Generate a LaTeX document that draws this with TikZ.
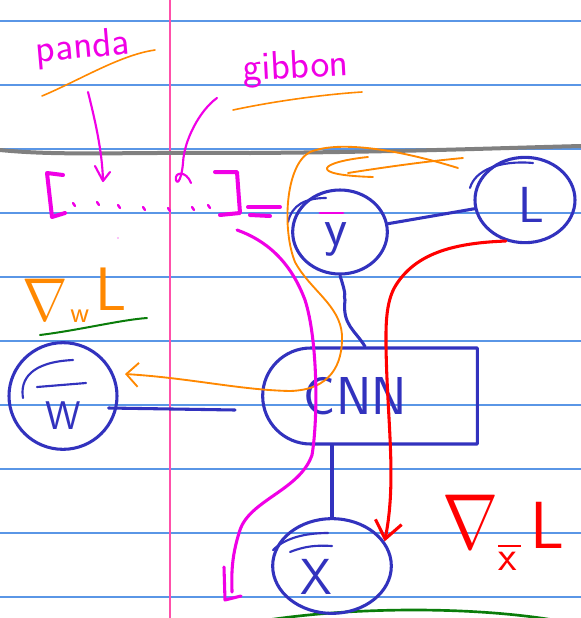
\documentclass[tikz,border=0pt]{standalone}
\usepackage{graphicx}
\usetikzlibrary{shapes.geometric,shapes.misc,arrows.meta,calc}
\definecolor{inkblue}{RGB}{50,50,190}
\definecolor{inkmag}{RGB}{240,0,230}
\definecolor{inkorange}{RGB}{255,136,0}
\definecolor{inkred}{RGB}{255,0,0}
\definecolor{inkgreen}{RGB}{10,125,10}
\definecolor{ruleblue}{RGB}{90,150,230}
\definecolor{marginpink}{RGB}{255,80,170}
\definecolor{pengray}{RGB}{128,128,128}
\newcommand{\fs}[1]{\fontsize{#1}{#1}\selectfont}
% place text: lowered by #1, with extra space #2 before and #3 after
\newcommand{\shifted}[4]{\hspace*{#2}\raisebox{#1}[0pt][0pt]{#4}\hspace*{#3}}
\begin{document}
\begin{tikzpicture}[x=0.75pt,y=-0.75pt,line cap=round,line join=round,
  rule/.style={ruleblue,line width=1pt},
  bluepen/.style={inkblue,line width=2.3pt},
  thinblue/.style={inkblue,line width=1.6pt},
  magpen/.style={inkmag,line width=2.3pt},
  orpen/.style={inkorange,line width=1.4pt},
  redpen/.style={inkred,line width=2.3pt},
  greenpen/.style={inkgreen,line width=1.5pt},
  var/.style={ellipse,draw=inkblue,line width=2.3pt,text=inkblue,inner sep=0pt,
    font=\sffamily},
  lab/.style={inner sep=0pt,font=\sffamily\fs{30}},
  grad/.style={inner sep=0pt,font=\sffamily},
  barb/.style={-{Straight Barb[length=13pt,width=20pt,line width=2.3pt]}}
]
\useasboundingbox (0,0) rectangle (581,618);
\fill[white] (0,0) rectangle (581,618);
% ruled paper
\foreach \yy in {21,85,...,597} \draw[rule] (0,\yy) -- (581,\yy);
\draw[marginpink,line width=1.1pt] (170,0) -- (170,618);
\draw[pengray,line width=3pt] (0,150) .. controls (60,156) and (120,152) .. (250,153)
  .. controls (400,152) and (500,148) .. (581,146);
\draw[greenpen,line width=2pt] (255,622) .. controls (350,606) and (480,606) .. (565,622);

% labels
\node[lab,text=inkmag,rotate=5] (panda) at (83,48) {panda};
\draw[orpen,line width=1.2pt] (42,96) .. controls (80,80) and (120,55) .. (155,50);
\node[lab,text=inkmag,rotate=3] (gibbon) at (296,68) {gibbon};
\draw[orpen,line width=1.2pt] (233,110) .. controls (280,100) and (330,94) .. (362,92);

% arrows from labels
\draw[magpen,line width=1.6pt] (88,92) .. controls (95,120) and (102,150) .. (103,180);
\draw[magpen,line width=1.6pt] (95,166) -- (103,181) -- (110,172);
\draw[magpen,line width=1.6pt] (217,98) .. controls (200,110) and (184,140) .. (183,163)
  .. controls (182,176) and (178,186) .. (176,180) .. controls (174,172) and (186,170) .. (191,183);

% bracket [ . . . ] =
\draw[magpen,line width=3pt] (63,175) -- (47,173) -- (52,217) -- (65,213);
\draw[magpen,line width=3pt] (215,172) -- (237,172) -- (240,213) -- (220,215);
\foreach \dx/\dy in {73/203,97/202,118/205,143/207,168/208,192/207,208/205}
  \draw[magpen,line width=1.8pt] (\dx,\dy) -- ++(2,3);
\fill[inkmag] (118,238) circle (0.7);
\draw[magpen,line width=3pt] (248,207) -- (280,207);
\draw[magpen,line width=3pt] (250,215) -- (270,216);

% nodes
\node[var,minimum width=71pt,minimum height=63pt] (y) at (340,232)
  {\fs{40}\shifted{-10pt}{0pt}{6pt}{y}};
\node[var,minimum width=75pt,minimum height=64pt] (L) at (525,200)
  {\fs{38}\shifted{-17pt}{9pt}{0pt}{L}};
\node[var,minimum width=81pt,minimum height=80pt] (W) at (63,396)
  {\fs{30}\shifted{-25pt}{0pt}{0pt}{W}};
\node[var,minimum width=89pt,minimum height=71pt] (X) at (332,566)
  {\fs{38}\shifted{-21.5pt}{0pt}{24pt}{X}};
\node[rounded rectangle,rounded rectangle right arc=none,draw=inkblue,line width=2.3pt,
  minimum width=161pt,minimum height=72pt,text=inkblue,inner sep=0pt,
  font=\sffamily\fs{40}] (cnn) at (370,396) {\shifted{-14pt}{0pt}{22pt}{CNN}};

% bars and inner strokes of the hand drawn circles
\draw[magpen,line width=2.2pt] ($(y)+(-20,-19)$) -- ++(23,0);
\draw[thinblue] ($(W)+(-26,-9)$) -- ++(49,-4);
\draw[thinblue] ($(X)+(-42,-14)$) .. controls ++(15,-6) and ++(-15,-1) .. ++(42,-6);
\draw[thinblue] (23,398) .. controls (20,380) and (30,362) .. (73,360);
\draw[thinblue] (288,222) .. controls (292,205) and (305,198) .. (326,198);
\draw[thinblue] (470,188) .. controls (475,170) and (500,160) .. (533,163);
\draw[thinblue] (273,550) .. controls (285,538) and (305,533) .. (328,533);

% blue connectors
\coordinate (wend) at (235,410);
\draw[bluepen] (y) -- (L);
\draw[bluepen] (y.south) .. controls +(8,25) and +(-2,-8) .. (345,300)
  .. controls (342,325) and (355,330) .. ($(cnn.north)+(-5,0)$);
\draw[bluepen] ($(W.east)+(-10,12)$) -- (wend);
\draw[bluepen] (X.north) -- (X.north |- cnn.south);

% red gradient arrow
\draw[redpen,barb] (L.245) .. controls (450,243) and (415,255) .. (396,285)
  .. controls (385,302) and (386,330) .. (386,345)
  .. controls (387,420) and (397,480) .. (X.25);
\node[grad,text=inkred,anchor=base west] (gx) at (442,548)
  {\resizebox{42pt}{40pt}{$\nabla$}\raisebox{-17pt}{\fs{32}\rlap{\raisebox{18pt}{\rule{17pt}{1.6pt}}}x}\hspace{10pt}{\fs{50}L}};

% orange gradient flow
\draw[orpen,-{Straight Barb[length=9pt,width=18pt,line width=1.4pt]}]
  (458,168) .. controls (400,150) and (340,140) .. (310,152)
  .. controls (285,165) and (282,230) .. (295,262)
  .. controls (310,290) and (340,305) .. (342,335)
  .. controls (343,365) and (330,390) .. (290,391)
  .. controls (240,390) and (190,378) .. (125,374);
\draw[orpen] (463,158) .. controls (420,162) and (380,168) .. (348,173);
\draw[orpen] (368,157) .. controls (320,162) and (305,175) .. (373,177);
\node[grad,text=inkorange,anchor=base west] (gw) at (22,320)
  {\resizebox{34pt}{31pt}{$\nabla$}\hspace{2pt}\raisebox{-2pt}{\fs{22}w}\hspace{5pt}\raisebox{7.5pt}{\fs{46}L}};
\draw[greenpen] (40,335) .. controls (80,330) and (120,320) .. (147,318);

% magenta path
\draw[magpen] (237,230) .. controls (265,240) and (290,260) .. (305,300)
  .. controls (318,340) and (318,420) .. (312,455)
  .. controls (300,490) and (250,500) .. (240,530)
  .. controls (230,560) and (232,580) .. (232,592);
\draw[magpen] (224,567) -- (225,600) -- (241,596);
\end{tikzpicture}
\end{document}
